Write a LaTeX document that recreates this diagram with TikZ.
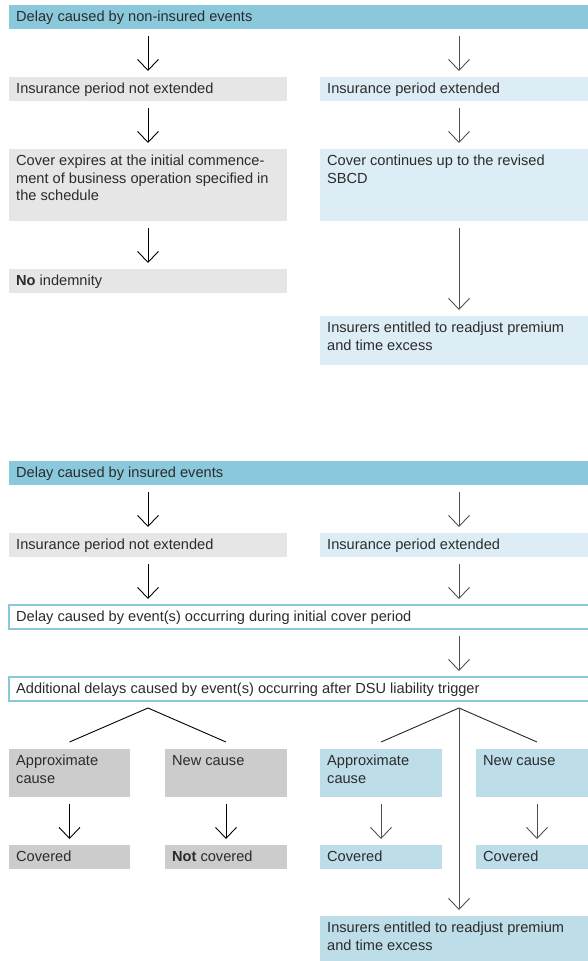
\documentclass[tikz,border=0pt]{standalone}
\usepackage{fontspec}
\setmainfont{Liberation Sans}
\usetikzlibrary{arrows.meta}
\definecolor{headc}{HTML}{8AC8DC}
\definecolor{greyc}{HTML}{E6E6E6}
\definecolor{lblue}{HTML}{DDEDF5}
\definecolor{dgrey}{HTML}{CCCCCC}
\definecolor{mblue}{HTML}{BDDDE9}
\definecolor{textc}{HTML}{2B2B2B}
\definecolor{arrowR}{HTML}{505050}
\newcommand\bx[7]{%
  \node[#2, minimum width=#5pt, minimum height=#6pt, anchor=north west] (#1) at (#3,#4) {};
  \node[txt] (#1t) at ([xshift=7pt,yshift=-5pt]#1.north west) {\rule{0pt}{11.5pt}#7};
}
\begin{document}
\begin{tikzpicture}[x=1pt,y=-1pt,
  box/.style={rectangle, inner sep=0pt, outer sep=0pt, draw=none},
  hdr/.style={box, fill=headc},
  gbox/.style={box, fill=greyc},
  lbox/.style={box, fill=lblue},
  dbox/.style={box, fill=dgrey},
  mbox/.style={box, fill=mblue},
  obox/.style={box, draw=headc, line width=2pt, fill=white},
  txt/.style={anchor=north west, inner sep=0pt, align=left, font=\fontsize{14.6}{17.5}\selectfont, text=textc},
  arr/.style={-{Straight Barb[length=11pt,width=21pt]}, line width=0.9pt, shorten <=7pt, shorten >=6pt},
  arrL/.style={arr, draw=black},
  arrRt/.style={arr, draw=arrowR},
  brL/.style={line width=0.9pt, draw=black},
  brR/.style={line width=0.9pt, draw=black!85}]
\useasboundingbox (0,0) rectangle (588,961);
\clip (0,0) rectangle (588,961);

% Section 1
\bx{h1}{hdr}{9}{5}{589}{24}{Delay caused by non-insured events}
\bx{a1}{gbox}{9}{77}{278}{24}{Insurance period not extended}
\bx{b1}{lbox}{320}{77}{278}{24}{Insurance period extended}
\bx{a2}{gbox}{9}{149}{278}{72}{Cover expires at the initial commence-\\ment of business operation specified in\\the schedule}
\bx{b2}{lbox}{320}{149}{278}{72}{Cover continues up to the revised\\SBCD}
\bx{a3}{gbox}{9}{269}{278}{24}{\textbf{No} indemnity}
\bx{b3}{lbox}{320}{316}{278}{49}{Insurers entitled to readjust premium\\and time excess}

\draw[arrL] (h1.south -| a1.north) -- (a1.north);
\draw[arrRt] (h1.south -| b1.north) -- (b1.north);
\draw[arrL] (a1) -- (a2);
\draw[arrRt] (b1) -- (b2);
\draw[arrL] (a2) -- (a3);
\draw[arrRt] (b2) -- (b3);

% Section 2
\bx{h2}{hdr}{9}{461}{589}{24}{Delay caused by insured events}
\bx{c1}{gbox}{9}{533}{278}{24}{Insurance period not extended}
\bx{d1}{lbox}{320}{533}{278}{24}{Insurance period extended}
\bx{e1}{obox}{9}{605}{589}{24}{Delay caused by event(s) occurring during initial cover period}
\bx{e2}{obox}{9}{677}{589}{24}{Additional delays caused by event(s) occurring after DSU liability trigger}
\bx{f1}{dbox}{9}{749}{121}{48}{Approximate\\cause}
\bx{f2}{dbox}{165}{749}{122}{48}{New cause}
\bx{g1}{mbox}{320}{749}{122}{48}{Approximate\\cause}
\bx{g2}{mbox}{476}{749}{122}{48}{New cause}
\bx{f3}{dbox}{9}{845}{121}{24}{Covered}
\bx{f4}{dbox}{165}{845}{122}{24}{\textbf{Not} covered}
\bx{g3}{mbox}{320}{845}{122}{24}{Covered}
\bx{g4}{mbox}{476}{845}{122}{24}{Covered}
\bx{g5}{mbox}{320}{916}{278}{50}{Insurers entitled to readjust premium\\and time excess}

\draw[arrL] (h2.south -| c1.north) -- (c1.north);
\draw[arrRt] (h2.south -| d1.north) -- (d1.north);
\draw[arrL] (c1.south) -- (e1.north -| c1.south);
\draw[arrRt] (d1.south) -- (e1.north -| d1.south);
\draw[arrRt] (e1.south -| d1.south) -- (e2.north -| d1.south);

\coordinate (pL) at (148,708);
\coordinate (pR) at (459,708);
\draw[brL] ([yshift=7pt]f1.north) -- (pL) -- ([yshift=7pt]f2.north);
\draw[brR] ([yshift=7pt]g1.north) -- (pR) -- ([yshift=7pt]g2.north);
\draw[arrRt, shorten <=0pt] (pR) -- (g5.north);
\draw[arrL] (f1) -- (f3);
\draw[arrL] (f2) -- (f4);
\draw[arrRt] (g1) -- (g3);
\draw[arrRt] (g2) -- (g4);
\end{tikzpicture}
\end{document}
